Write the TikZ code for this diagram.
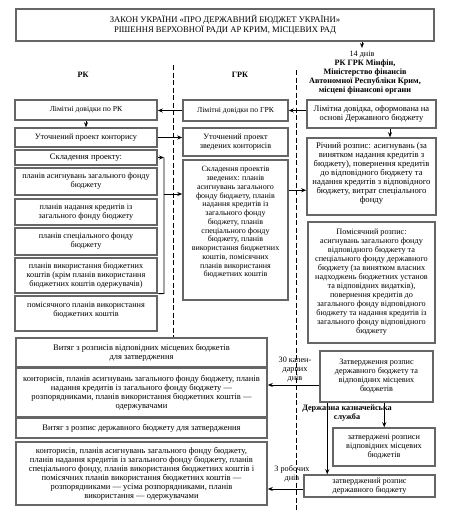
\documentclass[tikz,border=0pt]{standalone}
\usepackage{fontspec}
\setmainfont{Liberation Serif}
\usetikzlibrary{arrows.meta,calc}
\newcommand\dfs{\fontsize{8.2}{9}\selectfont}
\newcommand\sfs{\fontsize{7.7}{9}\selectfont}
\newcommand\lfs{\fontsize{8.5}{9}\selectfont}
\newcommand\hfs{\fontsize{8.2}{9}\selectfont\bfseries}
\begin{document}
\begin{tikzpicture}[x=1pt,y=-1pt,
  box/.style={draw=black!60, line width=1.5pt, fill=white, inner sep=1pt, align=center, font=\dfs},
  txt/.style={inner sep=0pt, align=center, font=\dfs},
  arr/.style={-{Stealth[length=5pt,width=4pt]}, line width=0.9pt},
  ln/.style={line width=0.9pt},
  dsh/.style={dash pattern=on 5pt off 2.5pt, line width=0.9pt}]
\useasboundingbox (0,0) rectangle (453,515);
% dashed separators
\coordinate (d1a) at (173,65);
\coordinate (d1b) at (173,337);
\coordinate (d2a) at (296,70);
\coordinate (d2b) at (296,510);
\draw[dsh] (d1a) -- (d1b);
\draw[dsh] (d2a) -- (d2b);
% top
\node[box, minimum width=418pt, minimum height=32pt, line width=2pt, font=\fontsize{8.6}{10}\selectfont] (top) at (225,25) {ЗАКОН УКРАЇНИ «ПРО ДЕРЖАВНИЙ БЮДЖЕТ УКРАЇНИ»\\РІШЕННЯ ВЕРХОВНОЇ РАДИ АР КРИМ, МІСЦЕВИХ РАД};
% headings
\node[font=\dfs] (d14) at (362,55) {14 днів};
\node[font=\hfs, align=center, inner sep=0pt] (hd) at (365,77.5) {РК ГРК Мінфін,\\Міністерство фінансів\\Автономної Республіки Крим,\\місцеві фінансові органи};
\node[font=\hfs] (lrk) at (83,75) {РК};
\node[font=\hfs] (lgrk) at (240,75) {ГРК};
% RK column
\node[box, minimum width=142pt, minimum height=20pt, font=\sfs] (rk1) at (86,110) {Лімітні довідки по РК};
\node[box, minimum width=142pt, minimum height=19pt] (rk2) at (86,137.5) {Уточнений проект конторису};
\node[box, minimum width=142pt, minimum height=15pt, font=\lfs] (rk3) at (86,157.5) {Складення проекту:};
\node[box, minimum width=142pt, minimum height=27pt] (rk4) at (86,181.5) {планів асигнувань загального фонду\\бюджету};
\node[box, minimum width=142pt, minimum height=26pt] (rk5) at (86,212) {планів надання кредитів із\\загального фонду бюджету};
\node[box, minimum width=142pt, minimum height=27pt] (rk6) at (86,241.5) {планів спеціального фонду\\бюджету};
\node[box, minimum width=142pt, minimum height=35pt] (rk7) at (86,275.5) {планів використання бюджетних\\коштів (крім планів використання\\бюджетних коштів одержувачів)};
\node[box, minimum width=142pt, minimum height=35pt] (rk8) at (86,313.5) {};
\node[txt] (rk8t) at (86,310) {помісячного планів використання\\бюджетних коштів};
% GRK column
\node[box, minimum width=105pt, minimum height=21pt, font=\sfs] (g1) at (235.5,110.5) {Лімітні довідки по ГРК};
\node[box, minimum width=105pt, minimum height=28pt] (g2) at (235.5,142) {Уточнений проект\\зведених конторисів};
\node[box, minimum width=105pt, minimum height=140pt] (g3) at (235.5,230) {};
\node[txt, font=\fontsize{8}{8.75}\selectfont] (g3t) at (235.5,222.5) {Складення проектів\\зведених: планів\\асигнувань загального\\фонду бюджету, планів\\надання кредитів із\\загального фонду\\бюджету, планів\\спеціального фонду\\бюджету, планів\\використання бюджетних\\коштів, помісячних\\планів використання\\бюджетних коштів};
% right column
\node[box, minimum width=129pt, minimum height=28pt, font=\lfs] (r1) at (371.5,114) {Лімітна довідка, оформована на\\основі Державного бюджету};
\node[box, minimum width=129pt, minimum height=77pt] (r2) at (371.5,176.5) {};
\node[txt, font=\fontsize{8.6}{8.9}\selectfont] (r2t) at (371.5,173.5) {Річний розпис: асигнувань (за\\винятком надання кредитів з\\бюджету), повернення кредитів\\до відповідного бюджету та\\надання кредитів з відповідного\\бюджету, витрат спеціального\\фонду};
\node[box, minimum width=127pt, minimum height=121pt] (r3) at (371.5,282.5) {Помісячний розпис:\\асигнувань загального фонду\\відповідного бюджету та\\спеціального фонду державного\\бюджету (за винятком власних\\надходжень бюджетних установ\\та відповідних видатків),\\повернення кредитів до\\загального фонду відповідного\\бюджету та надання кредитів із\\загального фонду відповідного\\бюджету};
\node[box, minimum width=113pt, minimum height=51pt] (r4) at (376.5,376.5) {Затвердження розпис\\державного бюджету та\\відповідних місцевих\\бюджетів};
\node[box, minimum width=102pt, minimum height=38pt] (r5) at (384,447) {затверджені розписи\\відповідних місцевих\\бюджетів};
\node[box, minimum width=131pt, minimum height=22pt] (r6) at (369.5,486) {затверджений розпис\\державного бюджету};
% wide boxes
\node[box, minimum width=251pt, minimum height=29pt, font=\lfs] (w1) at (141.5,352.5) {Витяг з розписів відповідних місцевих бюджетів\\для затвердження};
\node[box, minimum width=251pt, minimum height=49pt, font=\lfs] (w2) at (141.5,392.5) {конторисів, планів асигнувань загального фонду бюджету, планів\\надання кредитів із загального фонду бюджету —\\розпорядниками, планів використання бюджетних коштів —\\одержувачами};
\node[box, minimum width=251pt, minimum height=20pt, font=\lfs] (w3) at (141.5,428) {Витяг з розпис державного бюджету для затвердження};
\node[box, minimum width=251pt, minimum height=63pt, font=\lfs] (w4) at (141.5,473.5) {конторисів, планів асигнувань загального фонду бюджету,\\планів надання кредитів із загального фонду бюджету, планів\\спеціального фонду, планів використання бюджетних коштів і\\помісячних планів використання бюджетних коштів —\\розпорядниками — усіма розпорядниками, планів\\використання — одержувачами};
% labels
\node[font=\dfs, align=center, inner sep=0pt] (l30) at (295,370) {30 кален-\\дарних\\днів};
\node[font=\dfs, align=center, inner sep=0pt] (l3) at (292,473.5) {3 робочих\\днів};
\node[font=\hfs, align=center, inner sep=0pt] (dks) at (347,413) {Державна казначейська\\служба};
% connectors
\draw[arr] (top.south -| d14) -- (d14.north);
\draw[arr] (r1.west |- g1.east) -- (g1.east);
\draw[arr] (g1.west) -- (g1.west -| rk1.east);
\draw[arr] (rk1.south) -- (rk2.north);
\draw[arr] (rk2.east) -- (rk2.east -| g2.west);
\coordinate (bk1) at (164,157.5);
\coordinate (bk2) at (164,293.5);
\coordinate (bk3) at (164,194);
\draw[arr] (rk3.east) -- (bk1);
\draw[ln] (bk1) -- (bk2) -- (rk7.south east);
\draw[arr] (bk3) -- (bk3 -| g3.west);
\draw[arr] ([yshift=-31pt]g3.north east) -- ([yshift=-31pt]g3.north east -| r2.west);
\draw[arr] ([xshift=18.5pt]r1.south) -- ([xshift=18.5pt]r2.north);
\draw[arr] ([yshift=-8.5pt]r4.west) -- ([yshift=-8.5pt]r4.west -| w2.east);
\draw[arr] ([xshift=8pt]r4.south west) -- ([xshift=8pt]r4.south west |- r6.north);
\draw[arr] ([xshift=65pt]r4.south west) -- ([xshift=65pt]r4.south west |- r5.north);
\draw[arr] ([yshift=-3pt]r6.west) -- ([yshift=-3pt]r6.west -| w4.east);
\end{tikzpicture}
\end{document}
